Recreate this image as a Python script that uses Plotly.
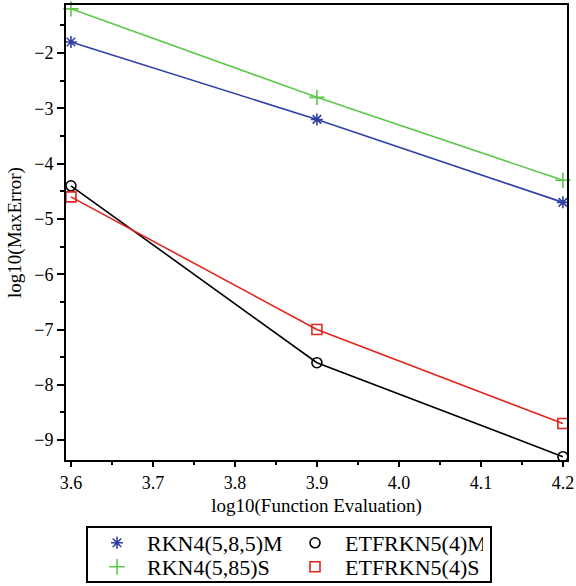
import plotly.graph_objects as go

x_vals = [3.6, 3.9, 4.2]
rkn_m = [-1.8, -3.2, -4.7]
rkn_s = [-1.2, -2.8, -4.3]
etf_m = [-4.4, -7.6, -9.3]
etf_s = [-4.6, -7.0, -8.7]

names = ["RKN4(5,8,5)M", "ETFRKN5(4)M", "RKN4(5,85)S", "ETFRKN5(4)S"]
series = [rkn_m, etf_m, rkn_s, etf_s]
colors = ["#2f40a3", "#000000", "#5cc84a", "#e2261c"]
symbols = ["asterisk-open", "circle-open", "cross-thin-open", "square-open"]
sizes = [10, 10, 11, 10]
legend_rows = ["legend", "legend", "legend2", "legend2"]

FONT = "Liberation Serif"
fig = go.Figure()
for nm, ys, c, s, sz in zip(names, series, colors, symbols, sizes):
    fig.add_trace(go.Scatter(
        x=x_vals, y=ys, mode="lines+markers", name=nm, showlegend=False,
        line=dict(color=c, width=1.6),
        marker=dict(symbol=s, size=sz, color=c, line=dict(color=c, width=1.6)),
        cliponaxis=False,
    ))
for nm, c, s, sz, lg in zip(names, colors, symbols, sizes, legend_rows):
    fig.add_trace(go.Scatter(
        x=[None], y=[None], mode="markers", name=nm, legend=lg,
        marker=dict(symbol=s, size=sz, color=c, line=dict(color=c, width=1.6)),
    ))

L, R, T, B, W, H = 66, 9, 5, 126, 576, 586
pw, ph = W - L - R, H - T - B
def px(x):
    return (x - L) / pw
def py(y):
    return (H - B - y) / ph

leg_common = dict(
    orientation="h", xanchor="left", yanchor="middle",
    entrywidth=133, entrywidthmode="pixels", itemwidth=50,
    borderwidth=0, bgcolor="rgba(0,0,0,0)",
    font=dict(family=FONT, size=22), traceorder="normal",
)

fig.update_layout(
    width=W, height=H,
    margin=dict(l=L, r=R, t=T, b=B, autoexpand=False),
    paper_bgcolor="white", plot_bgcolor="white",
    font=dict(family=FONT, size=18, color="black"),
    xaxis=dict(
        range=[3.594, 4.205], dtick=0.1, tick0=3.6, tickformat=".1f",
        showgrid=False, zeroline=False, automargin=False,
        showline=True, linecolor="black", linewidth=2, mirror=True,
        ticks="outside", ticklen=5, tickwidth=1.5, tickcolor="black",
        tickfont=dict(family=FONT, size=18),
        minor=dict(dtick=0.05, ticks="outside", ticklen=3, tickwidth=1.5, tickcolor="black"),
        title=dict(text="log10(Function Evaluation)", font=dict(family=FONT, size=19), standoff=7),
    ),
    yaxis=dict(
        range=[-9.36, -1.13], dtick=1, tick0=0,
        showgrid=False, zeroline=False, automargin=False,
        showline=True, linecolor="black", linewidth=2, mirror=True,
        ticks="outside", ticklen=7, tickwidth=1.5, tickcolor="black",
        tickfont=dict(family=FONT, size=18),
        minor=dict(dtick=0.5, ticks="outside", ticklen=4, tickwidth=1.5, tickcolor="black"),
        title=dict(text="log10(MaxError)", font=dict(family=FONT, size=19), standoff=8),
    ),
    legend=dict(x=px(87), y=py(543), **leg_common),
    legend2=dict(x=px(87), y=py(567), **leg_common),
    shapes=[dict(
        type="rect", xref="paper", yref="paper",
        x0=px(87), x1=px(491), y0=py(527), y1=py(582),
        line=dict(color="black", width=2), fillcolor="rgba(0,0,0,0)",
    )],
)

fig.write_html(
    "out.html",
    config={"displayModeBar": False},
    post_script="document.body.style.margin='0';document.body.style.overflow='hidden';",
)
